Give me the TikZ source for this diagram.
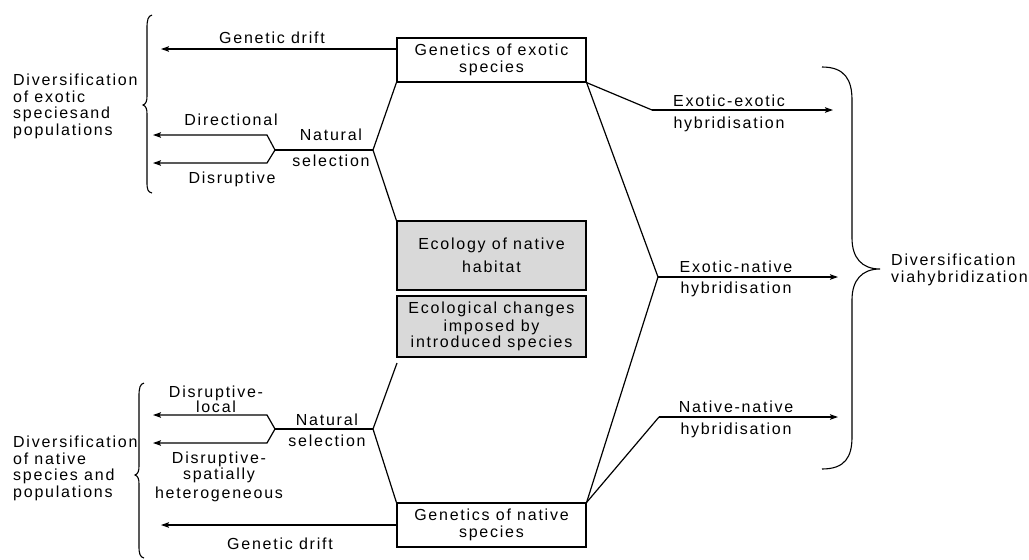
\documentclass[tikz,border=0pt]{standalone}
\usepackage{fontspec}
\setmainfont{Liberation Sans}[LetterSpace=11]
\usetikzlibrary{arrows.meta}
\definecolor{boxgray}{RGB}{217,217,217}
\begin{document}
\begin{tikzpicture}[x=1pt,y=-1pt,
  every node/.style={font=\fontsize{16}{16.5}\selectfont, inner sep=0pt},
  ln/.style={line width=1.2pt, black},
  arr/.style={ln, -{Stealth[length=8pt,width=5.5pt,inset=1.5pt]}},
  box/.style={draw, line width=1.2pt, minimum width=189pt, align=center, fill=white},
  gbox/.style={box, fill=boxgray},
  lbl/.style={anchor=base, align=center},
  lbll/.style={anchor=base west, align=left},
  brc/.style={line width=1.1pt}]
\useasboundingbox (0,0) rectangle (1029,560);

% boxes
\node[box, minimum height=44pt] (gex) at (491.5,60) {Genetics of exotic\\species};
\node[gbox, minimum height=69pt] (eco) at (491.5,255.5) {Ecology of native\\[6.5pt]habitat};
\node[gbox, minimum height=61pt] (chg) at (491.5,326.5) {Ecological changes\\[1pt]imposed by\\introduced species};
\node[box, minimum height=44pt] (gna) at (491.5,525) {Genetics of native\\species};

% coordinates
\coordinate (nsT) at (373,150);
\coordinate (fT) at (275,150);
\coordinate (fTa) at (267,135);
\coordinate (fTb) at (267,163);
\coordinate (eTa) at (153,135);
\coordinate (eTb) at (153,163);
\coordinate (gdT) at (161,49);

\coordinate (nsB) at (373,429);
\coordinate (fB) at (275,429);
\coordinate (fBa) at (267,415);
\coordinate (fBb) at (267,443);
\coordinate (eBa) at (153,415);
\coordinate (eBb) at (153,443);
\coordinate (gdB) at (161,525);
\coordinate (chgEnd) at (397,363);

\coordinate (hEE) at (652,110);
\coordinate (hEEe) at (833,110);
\coordinate (hEN) at (658,277);
\coordinate (hENe) at (838,277);
\coordinate (hNN) at (659,417);
\coordinate (hNNe) at (838,417);

% top-left connectors
\draw[arr] ([yshift=11pt]gex.west) -- (gdT);
\draw[ln] (gex.south west) -- (nsT) -- (eco.north west);
\draw[ln] (nsT) -- (fT);
\draw[arr] (fT) -- (fTa) -- (eTa);
\draw[arr] (fT) -- (fTb) -- (eTb);

% bottom-left connectors
\draw[arr] (gna.west) -- (gdB);
\draw[ln] (chgEnd) -- (nsB) -- (gna.north west);
\draw[ln] (nsB) -- (fB);
\draw[arr] (fB) -- (fBa) -- (eBa);
\draw[arr] (fB) -- (fBb) -- (eBb);

% right connectors
\draw[ln] (gex.south east) -- (hEE);
\draw[arr] (hEE) -- (hEEe);
\draw[ln] (gex.south east) -- (hEN) -- (gna.north east);
\draw[arr] (hEN) -- (hENe);
\draw[ln] (gna.north east) -- (hNN);
\draw[arr] (hNN) -- (hNNe);

% labels top-left (base = last line)
\node[lbl] (lgdT) at (272,43) {Genetic drift};
\node[lbl] (ldir) at (231,125) {Directional};
\node[lbl] (ldis) at (232,183) {Disruptive};
\node[lbl] (lnsT) at (331,166) {Natural\\[9.5pt]selection};
\node[lbll] (ldivT) at (13,135) {Diversification\\of exotic\\speciesand\\populations};

% labels bottom-left
\node[lbl] (ldl) at (216,412) {Disruptive-\\[-1.5pt]local};
\node[lbl] (lds) at (219,498) {Disruptive-\\[0pt]spatially\\[2pt]heterogeneous};
\node[lbl] (lnsB) at (327,446) {Natural\\[4.5pt]selection};
\node[lbl] (lgdB) at (280,549) {Genetic drift};
\node[lbll] (ldivB) at (13,497) {Diversification\\of native\\species and\\populations};

% labels right
\node[lbl] (lee) at (729,128) {Exotic-exotic\\[5.5pt]hybridisation};
\node[lbl] (len) at (736,293) {Exotic-native\\[4.5pt]hybridisation};
\node[lbl] (lnn) at (736,434) {Native-native\\[5.5pt]hybridisation};
\node[lbll] (ldivR) at (891,282) {Diversification\\[0.5pt]viahybridization};

% braces
\draw[brc] (152,15) .. controls (148,16) and (147,20) .. (147,28) -- (147,96)
  .. controls (147,101) and (146,104) .. (143,105)
  .. controls (146,106) and (147,109) .. (147,114) -- (147,182)
  .. controls (147,190) and (148,192) .. (152,193);
\draw[brc] (144,383) .. controls (140,384) and (139,388) .. (139,396) -- (139,466)
  .. controls (139,471) and (138,474) .. (135,475)
  .. controls (138,476) and (139,479) .. (139,484) -- (139,546)
  .. controls (139,554) and (140,557) .. (144,558);
\draw[brc] (822,67) .. controls (845,67) and (852,80) .. (852,100) -- (852,238)
  .. controls (852,258) and (862,269) .. (880,269)
  .. controls (862,269) and (852,280) .. (852,300) -- (852,437)
  .. controls (852,457) and (845,469) .. (822,469);
\end{tikzpicture}
\end{document}
